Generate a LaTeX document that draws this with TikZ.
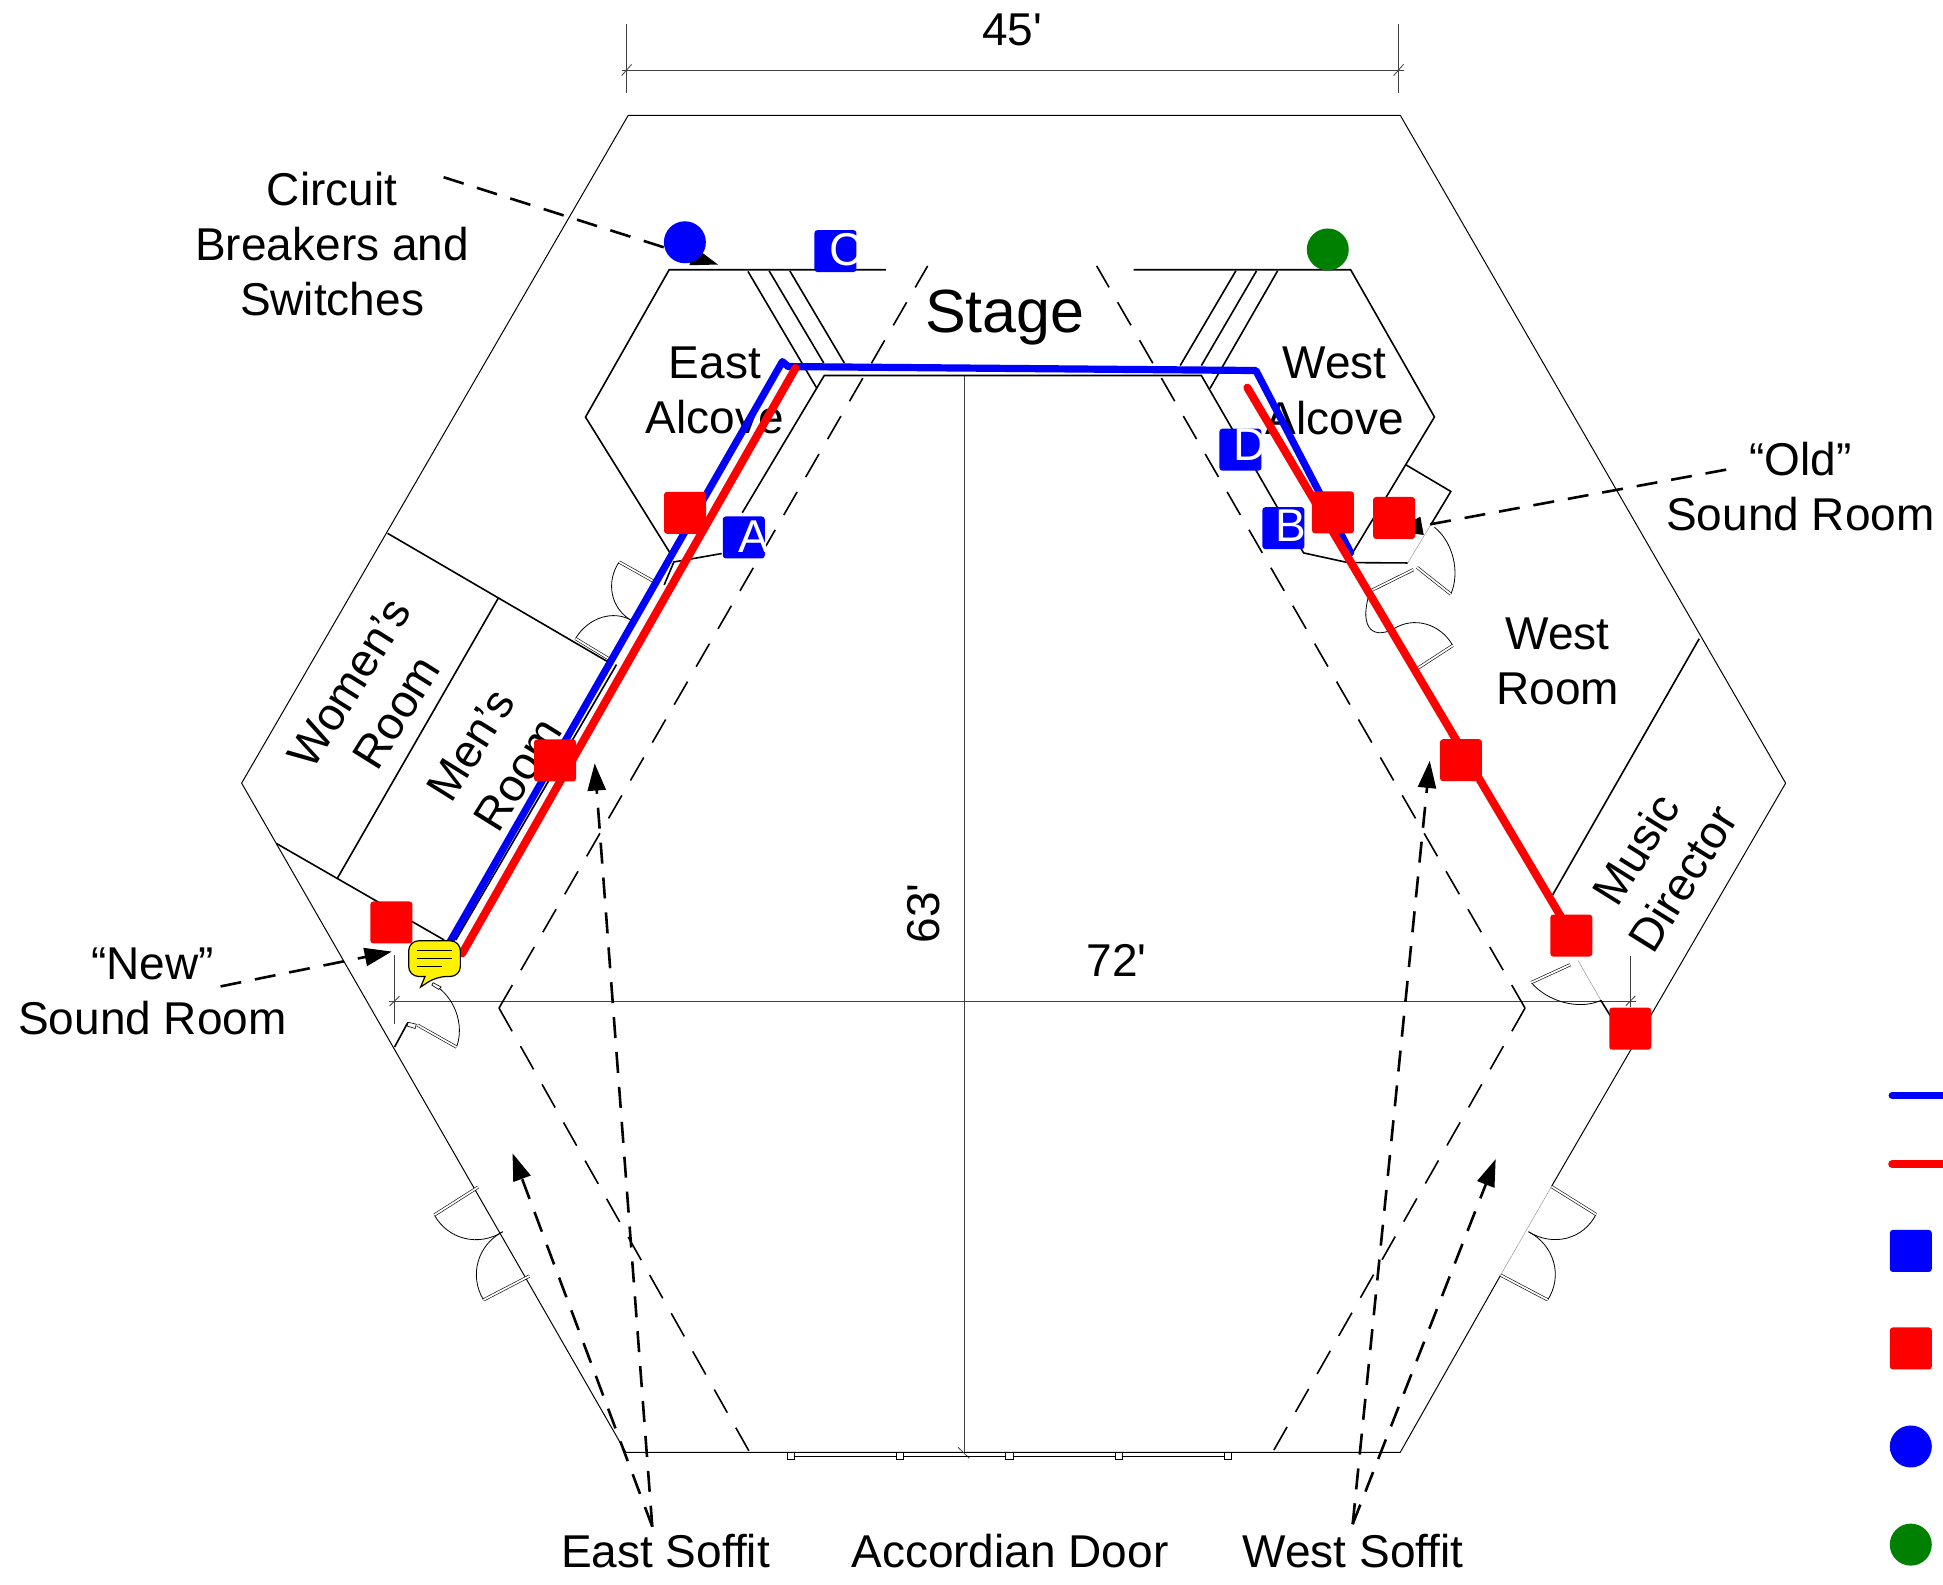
\documentclass[tikz,border=0pt]{standalone}
\usepackage{fontspec}
\setmainfont{Liberation Sans}
\newfontfamily\plainfont{Liberation Sans}
\usetikzlibrary{calc,arrows.meta}
\tikzset{
  txt/.style={inner sep=0pt,align=center,font=\fontsize{23}{27.6}\selectfont},
  stagetxt/.style={inner sep=0pt,font=\fontsize{30.5}{36}\selectfont},
  ltr/.style={inner sep=0pt,anchor=base west,text=white,font=\fontsize{23}{27}\selectfont},
  thinwall/.style={line width=0.5pt},
  wall/.style={line width=0.8pt},
  dim/.style={line width=0.4pt,draw=black!75},
  soffit/.style={line width=0.8pt,dash pattern=on 13.3pt off 8.6pt},
  callout/.style={line width=1.3pt,dash pattern=on 10.5pt off 7pt,-{Triangle[length=13.6pt,width=9pt]}},
  blueline/.style={draw=blue,line width=3.6pt,line cap=round,line join=round},
  redline/.style={draw=red,line width=4pt,line cap=round,line join=round},
  sqbox/.style={rounded corners=1.5pt,minimum size=21pt,inner sep=0pt,outer sep=0pt},
  bluesq/.style={sqbox,fill=blue},
  redsq/.style={sqbox,fill=red},
  dotmark/.style={circle,minimum size=21pt,inner sep=0pt,outer sep=0pt},
  doorarc/.style={line width=0.4pt},
  doorleaf/.style={line width=0.3pt,double=white,double distance=0.9pt},
  faint/.style={line width=0.2pt,draw=black!45},
}
\newcommand{\doorshape}[3]{%
  \draw[doorarc] (#2) .. controls ($(#2)+0.55*(#3)-0.55*(#1)$) and ($(#3)+0.55*(#2)-0.55*(#1)$) .. (#3);
  \draw[doorleaf] (#1) -- (#2);}
\begin{document}
\begin{tikzpicture}[x=0.6196pt,y=-0.6196pt]
\useasboundingbox (0,0) rectangle (1568,1279);
\fill[white] (0,0) rectangle (1568,1279);
% outer hexagon
\draw[thinwall,line join=miter] (1252,957.5) -- (1441,632) -- (1130,93) -- (507,93) -- (195,632) -- (505,1172) -- (1130,1172) -- (1211,1029);
\draw[faint] (1252,957.5) -- (1211,1029);
% dimensions
\draw[dim] (505.4,19) -- (505.4,74.7);
\draw[dim] (1128.4,19) -- (1128.4,74.7);
\draw[dim] (501.7,56.5) -- (1133,56.5);
\draw[dim] (501.7,61) -- (509.6,52);
\draw[dim] (1124.7,61) -- (1132.6,52);
\draw[dim] (318.4,771) -- (318.4,826);
\draw[dim] (1316,771.3) -- (1316,812.7);
\draw[dim] (314,808) -- (1320,808);
\draw[dim] (314.4,811.7) -- (322.4,804);
\draw[dim] (1312,811.6) -- (1319.7,803.7);
\draw[dim] (778,303) -- (778,1172);
\draw[dim] (773.2,1168) -- (782.2,1176.8);
% alcoves
\draw[wall] (714.8,217.7) -- (540,217.7) -- (472.5,336.6) -- (541,446.7);
\draw[wall] (914.9,217.7) -- (1090,217.7) -- (1157.6,336.5) -- (1091,447);
\draw[wall] (603.6,219) -- (659.2,313.4);
\draw[wall] (620.7,218.6) -- (664.8,293);
\draw[wall] (637.4,218.6) -- (681.4,293);
\draw[wall] (997.3,218.6) -- (952.4,295);
\draw[wall] (1014,218.6) -- (969.5,295);
\draw[wall] (1031,218.6) -- (976.5,313.4);
\draw[wall] (599,413.8) -- (665.2,303) -- (969.5,303) -- (1052,446.2) -- (1087.7,454) -- (1136,454.3);
\draw[wall] (582.4,446.7) -- (543.8,453.5) -- (536,472);
% rooms on the east side
\draw[wall] (312.8,430.4) -- (494.4,536.3);
\draw[wall] (402.4,482.2) -- (272,709.2);
\draw[wall] (223.3,680.8) -- (358.5,758.6);
\draw[wall] (497.5,536.3) -- (367.8,758.6);
\draw[wall] (318.4,845) -- (329.2,825);
% rooms on the west side
\draw[wall] (1087.7,454) -- (1268,755);
\draw[wall] (1371.2,515.5) -- (1251.7,724.4);
\draw[wall] (1134.4,375) -- (1170.8,396.6) -- (1154.5,423.7);
\draw[faint] (1136,454.3) -- (1154.5,423.7);
\draw[faint] (1273.4,774.9) -- (1291.9,807.3);
\draw[wall] (1291.9,807.3) -- (1299.6,819.9);
% doors
\doorshape{385.8,958}{350.5,980.5}{405.7,994}
\doorshape{427.3,1029.7}{390.2,1049}{405.7,994}
\doorshape{1252,957.5}{1288,980}{1233.5,994}
\doorshape{1211,1029}{1249,1049}{1233.5,994}
\doorshape{530,470.5}{499.6,453.5}{509.8,500.8}
\doorshape{491.3,531.6}{464.4,515.3}{509.8,500.8}
\doorshape{336.9,827.2}{368.4,845}{349.3,794}
\doorshape{1143.6,457.9}{1170.8,479.5}{1157.6,425.5}
\doorshape{1140.6,459.7}{1105.7,477}{1124.5,507.6}
\doorshape{1143,540}{1172.4,520.9}{1124.5,507.6}
\doorshape{1267.2,778.5}{1235.7,792.9}{1291.9,807.3}
\draw[line width=0.3pt,fill=white] (329.5,825) -- (336,826.5) -- (335,830) -- (328.5,828) -- cycle;
\draw[line width=0.3pt,fill=white] (349.5,793) -- (356,796.5) -- (354,798.5) -- (348.5,795) -- cycle;
% accordion door
\draw[line width=0.4pt] (638,1175) -- (991,1175);
\foreach \xx in {638,726.3,814.6,903,991}
  \draw[line width=0.35pt,fill=white] (\xx-3,1172.3) rectangle (\xx+3,1177.4);
% soffit lines
\draw[soffit] (402.7,813.5) -- (748.6,214.6);
\draw[soffit] (402.7,813.5) -- (605,1172);
\draw[soffit] (1230.7,813.5) -- (885,214.6);
\draw[soffit] (1230.7,813.5) -- (1027,1172);
% labels
\node[txt] (dimw) at (816.7,24) {\plainfont 45'};
\node[txt] (dimh) at (901,775) {\plainfont 72'};
\node[txt,rotate=90] (dimd) at (745,737) {\plainfont 63'};
\node[txt] (breakers) at (268,197) {Circuit\\Breakers and\\Switches};
\node[stagetxt] (stage) at (811,256.5) {Stage};
\node[txt] (ealcove) at (577,315) {East\\Alcove};
\node[txt] (walcove) at (1077,315.5) {West\\Alcove};
\node[txt] (oldroom) at (1453,392.5) {“Old”\\Sound Room};
\node[txt] (westroom) at (1257,534) {West\\Room};
\node[txt] (newroom) at (123,800) {“New”\\Sound Room};
\node[txt,rotate=58] (women) at (301,563) {Women’s\\Room};
\node[txt,rotate=58] (men) at (399,613) {Men’s\\Room};
\node[txt,rotate=58] (music) at (1339,697) {Music\\Director};
\node[txt] (esoffit) at (537,1252) {East Soffit};
\node[txt] (accordian) at (815,1252) {Accordian Door};
\node[txt] (wsoffit) at (1092,1252) {West Soffit};
% callout anchor points
\coordinate (brkstart) at (358,143);
\coordinate (brktip) at (579.5,213.5);
\coordinate (newstart) at (178,796);
\coordinate (newtip) at (316.2,767.9);
\coordinate (oldstart) at (1393,379);
\coordinate (oldtip) at (1126,428.3);
\coordinate (estart) at (526.4,1232);
\coordinate (etipa) at (479.9,616);
\coordinate (etipb) at (413.6,930.7);
\coordinate (wstart) at (1091.6,1230);
\coordinate (wtipa) at (1153.8,613.9);
\coordinate (wtipb) at (1207,935.4);
\draw[callout] (brkstart) -- (brktip);
\draw[callout] (newstart) -- (newtip);
\draw[callout] (oldstart) -- (oldtip);
\draw[callout] (estart) -- (etipa);
\draw[callout] (estart) -- (etipb);
\draw[callout] (wstart) -- (wtipa);
\draw[callout] (wstart) -- (wtipb);
% cable runs
\draw[blueline] (363.2,760) -- (631.4,291.8) -- (636,295.8) -- (1013.5,299) -- (1090,446);
\draw[redline] (373,769.4) -- (642,297);
\draw[redline] (1006.6,312.8) -- (1268.7,755);
% markers
\node[dotmark,fill=blue] (bdot) at (552.7,195.5) {};
\node[dotmark,fill=green!50!black] (gdot) at (1071.5,201.3) {};
\node[bluesq] (sqc) at (674.2,202.6) {};
\node[bluesq] (sqa) at (600.2,433.7) {};
\node[bluesq] (sqd) at (1001,362.9) {};
\node[bluesq] (sqb) at (1035.7,426.2) {};
\node[ltr] (la) at (595.3,446) {A};
\node[ltr] (lc) at (669,214.6) {C};
\node[ltr] (ld) at (995,372) {D};
\node[ltr] (lb) at (1029,437) {B};
\node[redsq] (r1) at (315.8,744.4) {};
\node[redsq] (r2) at (447.9,613.7) {};
\node[redsq] (r3) at (552.8,413.8) {};
\node[redsq] (r4) at (1075.7,413.5) {};
\node[redsq] (r5) at (1125,418) {};
\node[redsq] (r6) at (1179,613.5) {};
\node[redsq] (r7) at (1268,755) {};
\node[redsq] (r8) at (1315.6,830.1) {};
% speech bubble
\draw[fill=yellow,line width=0.6pt,rounded corners=5pt] (329.8,759.2) -- (371.5,759.2) -- (371.5,788) -- (352.3,788) [sharp corners] -- (339.4,796.6) -- (343,788) [rounded corners=5pt] -- (329.8,788) -- cycle;
\draw[line width=0.5pt] (336.9,767.3) -- (364.7,767.3);
\draw[line width=0.5pt] (336.9,773.4) -- (364.7,773.4);
\draw[line width=0.5pt] (336.9,780.2) -- (357,780.2);
% legend
\coordinate (legbe) at (1570,884);
\coordinate (legre) at (1570,939.5);
\coordinate (legbs) at (1527,884);
\coordinate (legrs) at (1527,939.5);
\draw[blueline] (legbs) -- (legbe);
\draw[redline] (legrs) -- (legre);
\node[bluesq] (legb) at (1542,1009.5) {};
\node[redsq] (legr) at (1542,1088.2) {};
\node[dotmark,fill=blue] (legbd) at (1542,1167.3) {};
\node[dotmark,fill=green!50!black] (leggd) at (1542,1246.5) {};
\end{tikzpicture}
\end{document}
